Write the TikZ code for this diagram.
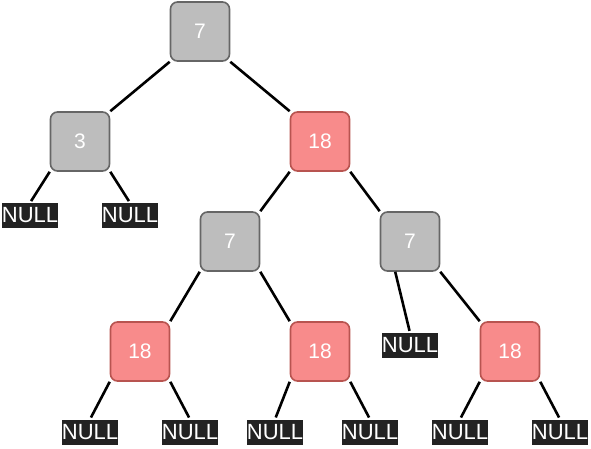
\documentclass[tikz,border=0pt]{standalone}
\usepackage{fontspec}
\setmainfont{Liberation Sans}
\definecolor{grayfill}{HTML}{BDBDBD}
\definecolor{graydraw}{HTML}{666666}
\definecolor{redfill}{HTML}{F88B8B}
\definecolor{reddraw}{HTML}{B85450}
\definecolor{nullbg}{HTML}{222222}
\begin{document}
\begin{tikzpicture}[x=1pt,y=-1pt,
  box/.style={rectangle,rounded corners=7pt,minimum width=59pt,minimum height=59pt,inner sep=0pt,line width=1.6pt,text=white,font=\fontsize{21}{24}\selectfont},
  bnode/.style={box,fill=grayfill,draw=graydraw},
  rnode/.style={box,fill=redfill,draw=reddraw},
  nullbox/.style={rectangle,fill=nullbg,text=white,minimum width=56pt,minimum height=25pt,inner sep=0pt,font=\fontsize{22}{24}\selectfont},
  edge/.style={line width=2.6pt,black}]
\useasboundingbox (0,0) rectangle (591,449);
% nodes
\node[bnode] (root) at (200,31.5) {7};
\node[bnode] (n3) at (80,141.5) {3};
\node[rnode] (r18) at (320,141.5) {18};
\node[bnode] (l7) at (230,241.5) {7};
\node[bnode] (r7) at (410,241.5) {7};
\node[rnode] (a18) at (140,351.5) {18};
\node[rnode] (b18) at (320,351.5) {18};
\node[rnode] (c18) at (510,351.5) {18};
% NULL labels
\node[nullbox] (n1) at (30,215.5) {NULL};
\node[nullbox] (n2) at (130,215.5) {NULL};
\node[nullbox] (n3a) at (410,345.5) {NULL};
\node[nullbox] (n4) at (90,432) {NULL};
\node[nullbox] (n5) at (190,432) {NULL};
\node[nullbox] (n6) at (275,432) {NULL};
\node[nullbox] (n7) at (370,432) {NULL};
\node[nullbox] (n8) at (460,432) {NULL};
\node[nullbox] (n9) at (560,432) {NULL};
% edges
\draw[edge] (root.south west) -- (n3.north east);
\draw[edge] (root.south east) -- (r18.north west);
\draw[edge] (r18.south west) -- (l7.north east);
\draw[edge] (r18.south east) -- (r7.north west);
\draw[edge] (l7.south west) -- (a18.north east);
\draw[edge] (l7.south east) -- (b18.north west);
\draw[edge] (r7.south east) -- (c18.north west);
\draw[edge,shorten >=2pt] (n3.south west) -- (n1.north);
\draw[edge,shorten >=2pt] (n3.south east) -- (n2.north);
\draw[edge,shorten >=2pt] (r7.-116) -- (n3a.north);
\draw[edge,shorten >=2pt] (a18.south west) -- (n4.north);
\draw[edge,shorten >=2pt] (a18.south east) -- (n5.north);
\draw[edge,shorten >=2pt] (b18.south west) -- (n6.north);
\draw[edge,shorten >=2pt] (b18.south east) -- (n7.north);
\draw[edge,shorten >=2pt] (c18.south west) -- (n8.north);
\draw[edge,shorten >=2pt] (c18.south east) -- (n9.north);
\end{tikzpicture}
\end{document}
